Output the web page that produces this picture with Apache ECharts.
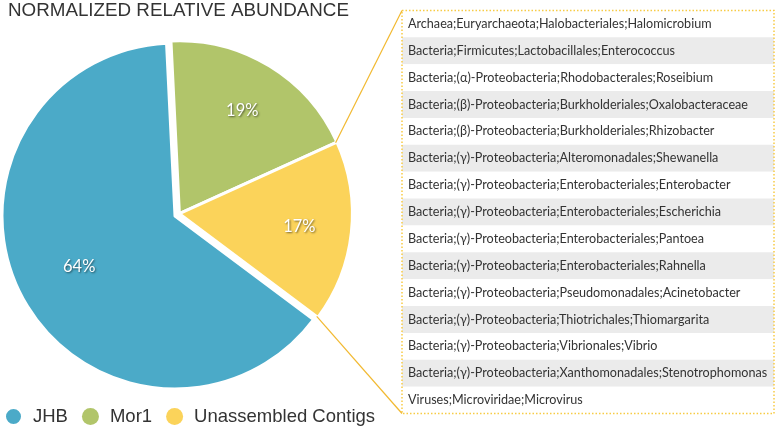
<!DOCTYPE html>
<html><head><meta charset="utf-8">
<script src="https://cdn.jsdelivr.net/npm/echarts@6/dist/echarts.min.js"></script>
<style>html,body{margin:0;padding:0;background:#fff}#c{width:778px;height:431px}</style>
</head><body><div id="c"></div>
<script>
// ---- data ----
const titleText = 'NORMALIZED RELATIVE ABUNDANCE';
const categories = ['JHB', 'Mor1', 'Unassembled Contigs'];
const values = [64, 19, 17];
const explodedGroup = ['Mor1', 'Unassembled Contigs'];
const taxa = [
  'Archaea;Euryarchaeota;Halobacteriales;Halomicrobium',
  'Bacteria;Firmicutes;Lactobacillales;Enterococcus',
  'Bacteria;(\u03b1)-Proteobacteria;Rhodobacterales;Roseibium',
  'Bacteria;(\u03b2)-Proteobacteria;Burkholderiales;Oxalobacteraceae',
  'Bacteria;(\u03b2)-Proteobacteria;Burkholderiales;Rhizobacter',
  'Bacteria;(\u03b3)-Proteobacteria;Alteromonadales;Shewanella',
  'Bacteria;(\u03b3)-Proteobacteria;Enterobacteriales;Enterobacter',
  'Bacteria;(\u03b3)-Proteobacteria;Enterobacteriales;Escherichia',
  'Bacteria;(\u03b3)-Proteobacteria;Enterobacteriales;Pantoea',
  'Bacteria;(\u03b3)-Proteobacteria;Enterobacteriales;Rahnella',
  'Bacteria;(\u03b3)-Proteobacteria;Pseudomonadales;Acinetobacter',
  'Bacteria;(\u03b3)-Proteobacteria;Thiotrichales;Thiomargarita',
  'Bacteria;(\u03b3)-Proteobacteria;Vibrionales;Vibrio',
  'Bacteria;(\u03b3)-Proteobacteria;Xanthomonadales;Stenotrophomonas',
  'Viruses;Microviridae;Microvirus'
];

// ---- styles / layout ----
const COLORS = { 'JHB': '#4BAAC8', 'Mor1': '#B1C56A', 'Unassembled Contigs': '#FBD35A' };
const R = 173;
const C0 = [175, 216];        // main pie centre
const C1 = [179.4, 213.7];    // exploded group centre
const START = -36.8;          // start angle (deg)
const BOX = { x: 402, y: 10.5, w: 372, h: 403 };
const TRANSPARENT = 'rgba(0,0,0,0)';

function pieData(inGroup, withLabels) {
  return categories.map((n, i) => {
    const on = explodedGroup.includes(n) === inGroup;
    return {
      name: n, value: values[i],
      itemStyle: withLabels
        ? { color: TRANSPARENT, borderWidth: 0 }
        : { color: on ? COLORS[n] : TRANSPARENT, borderColor: on ? '#fff' : TRANSPARENT, borderWidth: on ? 3 : 0 },
      label: { show: withLabels && on }
    };
  });
}

const labelStyle = {
  position: 'inside', color: '#fff', fontSize: 16.5, fontFamily: 'Lato',
  formatter: p => Math.round(p.percent) + '%',
  textShadowColor: 'rgba(0,0,0,0.55)', textShadowBlur: 2, textShadowOffsetX: 1, textShadowOffsetY: 1
};

function pieSeries(center, inGroup, labelInner) {
  const withLabels = labelInner != null;
  return {
    type: 'pie', center: center, radius: withLabels ? [R * labelInner, R] : [0, R],
    startAngle: START, clockwise: true, avoidLabelOverlap: false,
    silent: true, animation: false, emphasis: { disabled: true },
    label: withLabels ? labelStyle : { show: false },
    labelLine: { show: false },
    data: pieData(inGroup, withLabels)
  };
}

// connector endpoints computed from pie geometry
const total = values.reduce((a, b) => a + b, 0);
function boundaryPoint(afterIndex) {
  let cum = 0;
  for (let i = 0; i <= afterIndex; i++) cum += values[i];
  const ang = (START - 360 * cum / total) * Math.PI / 180;
  const r = R - 1.5;
  return [C1[0] + r * Math.cos(ang), C1[1] - r * Math.sin(ang)];
}
const pTop = boundaryPoint(categories.indexOf('Mor1'));
const pBot = boundaryPoint(categories.indexOf('Unassembled Contigs'));

const chart = echarts.init(document.getElementById('c'), null, { renderer: 'canvas' });
chart.setOption({
  backgroundColor: '#fff',
  animation: false,
  title: {
    text: titleText, left: 8, top: 1, padding: 0,
    textStyle: { fontSize: 18.8, fontWeight: 'normal', color: '#333', fontFamily: 'Liberation Sans' }
  },
  legend: {
    left: 4, top: 407, padding: 0, icon: 'circle', itemWidth: 17, itemHeight: 17, itemGap: 14,
    selectedMode: false,
    textStyle: { fontSize: 18.5, color: '#333', fontFamily: 'Liberation Sans', padding: [0, 0, 0, 6] },
    data: categories.map(n => ({ name: n, itemStyle: { color: COLORS[n] } }))
  },
  grid: { left: BOX.x, top: BOX.y, width: BOX.w, height: BOX.h },
  xAxis: { type: 'value', show: false, min: 0, max: 1 },
  yAxis: {
    type: 'category', data: taxa, inverse: true,
    axisLine: { show: false }, axisTick: { show: false }, splitLine: { show: false },
    axisLabel: { inside: true, margin: 6, color: '#333', fontSize: 12.6, fontFamily: 'Lato' },
    splitArea: { show: true, areaStyle: { color: ['#ffffff', '#ebebeb'] } }
  },
  graphic: [
    { type: 'rect', z: 100, shape: { x: BOX.x, y: BOX.y, width: BOX.w, height: BOX.h },
      style: { fill: null, stroke: '#F7CB45', lineWidth: 1.5, lineDash: [1.5, 2] } },
    { type: 'line', z: 100, shape: { x1: pTop[0], y1: pTop[1], x2: BOX.x, y2: BOX.y },
      style: { stroke: '#F2B930', lineWidth: 1.2 } },
    { type: 'line', z: 100, shape: { x1: pBot[0], y1: pBot[1], x2: BOX.x, y2: BOX.y + BOX.h },
      style: { stroke: '#F2B930', lineWidth: 1.2 } }
  ],
  series: [
    pieSeries(C0, false),
    pieSeries(C1, true),
    pieSeries(C0, false, 0.22),
    pieSeries(C1, true, 0.36)
  ]
});
</script></body></html>
